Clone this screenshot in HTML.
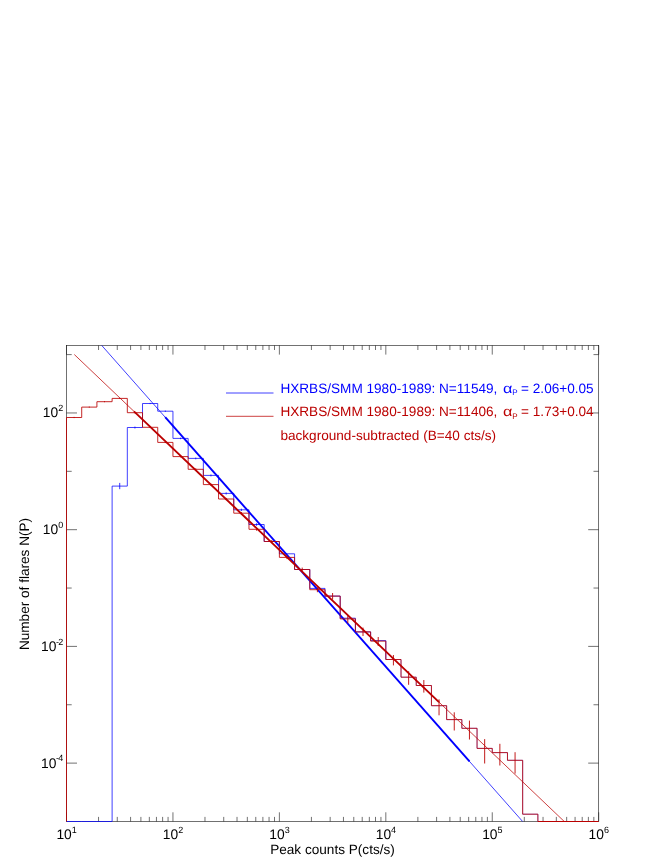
<!DOCTYPE html>
<html><head><meta charset="utf-8"><title>chart</title>
<style>html,body{margin:0;padding:0;background:#fff;}body{width:665px;height:865px;position:relative;overflow:hidden;font-family:"Liberation Sans",sans-serif;}</style>
</head><body>
<svg width="665" height="865" viewBox="0 0 665 865" style="position:absolute;left:0;top:0;will-change:transform">
<rect x="0" y="0" width="665" height="865" fill="#ffffff"/>
<g stroke="#1a1a1a" stroke-width="0.62" fill="none">
<rect x="66.5" y="345.4" width="532.2" height="476.1"/>
<path d="M66.50 821.5 v-9.2 M66.50 345.4 v9.2"/>
<path d="M98.54 821.5 v-4.6 M98.54 345.4 v4.6"/>
<path d="M117.28 821.5 v-4.6 M117.28 345.4 v4.6"/>
<path d="M130.58 821.5 v-4.6 M130.58 345.4 v4.6"/>
<path d="M140.90 821.5 v-4.6 M140.90 345.4 v4.6"/>
<path d="M149.33 821.5 v-4.6 M149.33 345.4 v4.6"/>
<path d="M156.45 821.5 v-4.6 M156.45 345.4 v4.6"/>
<path d="M162.62 821.5 v-4.6 M162.62 345.4 v4.6"/>
<path d="M168.07 821.5 v-4.6 M168.07 345.4 v4.6"/>
<path d="M172.94 821.5 v-9.2 M172.94 345.4 v9.2"/>
<path d="M204.98 821.5 v-4.6 M204.98 345.4 v4.6"/>
<path d="M223.72 821.5 v-4.6 M223.72 345.4 v4.6"/>
<path d="M237.02 821.5 v-4.6 M237.02 345.4 v4.6"/>
<path d="M247.34 821.5 v-4.6 M247.34 345.4 v4.6"/>
<path d="M255.77 821.5 v-4.6 M255.77 345.4 v4.6"/>
<path d="M262.89 821.5 v-4.6 M262.89 345.4 v4.6"/>
<path d="M269.06 821.5 v-4.6 M269.06 345.4 v4.6"/>
<path d="M274.51 821.5 v-4.6 M274.51 345.4 v4.6"/>
<path d="M279.38 821.5 v-9.2 M279.38 345.4 v9.2"/>
<path d="M311.42 821.5 v-4.6 M311.42 345.4 v4.6"/>
<path d="M330.16 821.5 v-4.6 M330.16 345.4 v4.6"/>
<path d="M343.46 821.5 v-4.6 M343.46 345.4 v4.6"/>
<path d="M353.78 821.5 v-4.6 M353.78 345.4 v4.6"/>
<path d="M362.21 821.5 v-4.6 M362.21 345.4 v4.6"/>
<path d="M369.33 821.5 v-4.6 M369.33 345.4 v4.6"/>
<path d="M375.50 821.5 v-4.6 M375.50 345.4 v4.6"/>
<path d="M380.95 821.5 v-4.6 M380.95 345.4 v4.6"/>
<path d="M385.82 821.5 v-9.2 M385.82 345.4 v9.2"/>
<path d="M417.86 821.5 v-4.6 M417.86 345.4 v4.6"/>
<path d="M436.60 821.5 v-4.6 M436.60 345.4 v4.6"/>
<path d="M449.90 821.5 v-4.6 M449.90 345.4 v4.6"/>
<path d="M460.22 821.5 v-4.6 M460.22 345.4 v4.6"/>
<path d="M468.65 821.5 v-4.6 M468.65 345.4 v4.6"/>
<path d="M475.77 821.5 v-4.6 M475.77 345.4 v4.6"/>
<path d="M481.94 821.5 v-4.6 M481.94 345.4 v4.6"/>
<path d="M487.39 821.5 v-4.6 M487.39 345.4 v4.6"/>
<path d="M492.26 821.5 v-9.2 M492.26 345.4 v9.2"/>
<path d="M524.30 821.5 v-4.6 M524.30 345.4 v4.6"/>
<path d="M543.04 821.5 v-4.6 M543.04 345.4 v4.6"/>
<path d="M556.34 821.5 v-4.6 M556.34 345.4 v4.6"/>
<path d="M566.66 821.5 v-4.6 M566.66 345.4 v4.6"/>
<path d="M575.09 821.5 v-4.6 M575.09 345.4 v4.6"/>
<path d="M582.21 821.5 v-4.6 M582.21 345.4 v4.6"/>
<path d="M588.38 821.5 v-4.6 M588.38 345.4 v4.6"/>
<path d="M593.83 821.5 v-4.6 M593.83 345.4 v4.6"/>
<path d="M598.70 821.5 v-9.2 M598.70 345.4 v9.2"/>
<path d="M66.5 763.12 h10.5 M598.7 763.12 h-10.5"/>
<path d="M66.5 704.76 h5.2 M598.7 704.76 h-5.2"/>
<path d="M66.5 646.40 h10.5 M598.7 646.40 h-10.5"/>
<path d="M66.5 588.04 h5.2 M598.7 588.04 h-5.2"/>
<path d="M66.5 529.68 h10.5 M598.7 529.68 h-10.5"/>
<path d="M66.5 471.32 h5.2 M598.7 471.32 h-5.2"/>
<path d="M66.5 412.96 h10.5 M598.7 412.96 h-10.5"/>
<path d="M66.5 354.60 h5.2 M598.7 354.60 h-5.2"/>
</g>
<clipPath id="c"><rect x="65.9" y="345.4" width="533.2" height="476.70000000000005"/></clipPath>
<g clip-path="url(#c)" fill="none" stroke-linejoin="miter">
<path stroke="#0000ff" stroke-width="0.75" d="M66.50 821.50 L66.50 821.50 L81.71 821.50 L81.71 821.50 L96.91 821.50 L96.91 821.50 L112.12 821.50 L112.12 486.10 L127.32 486.10 L127.32 427.50 L142.53 427.50 L142.53 403.50 L157.73 403.50 L157.73 411.20 L172.94 411.20 L172.94 438.40 L188.15 438.40 L188.15 458.40 L203.35 458.40 L203.35 475.40 L218.56 475.40 L218.56 493.40 L233.76 493.40 L233.76 509.80 L248.97 509.80 L248.97 524.50 L264.17 524.50 L264.17 541.50 L279.38 541.50 L279.38 553.80 L294.59 553.80 L294.59 569.50 L309.79 569.50 L309.79 588.40 L325.00 588.40 L325.00 596.10 L340.20 596.10 L340.20 618.20 L355.41 618.20 L355.41 631.90 L370.61 631.90 L370.61 640.60 L385.82 640.60 L385.82 659.50"/>
<path stroke="#0000ff" stroke-width="0.4" d="M385.82 659.50 L401.03 659.50 L401.03 677.20 L416.23 677.20 L416.23 685.50 L431.44 685.50 L431.44 705.70 L446.64 705.70 L446.64 719.60 L461.85 719.60 L461.85 728.30 L477.05 728.30 L477.05 748.40 L492.26 748.40 L492.26 752.60 L507.47 752.60 L507.47 760.30 L522.67 760.30 L522.67 814.20 L537.88 814.20 L537.88 821.50"/>
<path stroke="#0000ff" stroke-width="0.8" d="M119.72 482.9 V489.2"/>
<path stroke="#0000ff" stroke-width="0.8" d="M134.93 426.6 V428.5"/>
<path stroke="#0000ff" stroke-width="0.8" d="M150.13 402.9 V404.1"/>
<path stroke="#0000ff" stroke-width="0.8" d="M165.34 410.6 V411.9"/>
<path stroke="#0000ff" stroke-width="0.8" d="M180.54 437.7 V439.2"/>
<path stroke="#0000ff" stroke-width="0.8" d="M195.75 457.6 V459.3"/>
<path stroke="#0000ff" stroke-width="0.8" d="M210.95 474.5 V476.4"/>
<path stroke="#0000ff" stroke-width="0.8" d="M226.16 492.4 V494.5"/>
<path stroke="#0000ff" stroke-width="0.8" d="M241.37 508.7 V511.0"/>
<path stroke="#0000ff" stroke-width="0.8" d="M256.57 523.3 V525.8"/>
<path stroke="#0000ff" stroke-width="0.75" d="M91.7 334.09 L522.6 821.48"/>
<path stroke="#0000ff" stroke-width="1.9" d="M165.2 417.22 L469.5 761.42"/>
<path stroke="#bb0000" stroke-width="0.85" d="M66.50 821.50 L66.50 417.50 L81.71 417.50 L81.71 407.10 L96.91 407.10 L96.91 401.70 L112.12 401.70 L112.12 398.40 L127.32 398.40 L127.32 412.70 L142.53 412.70 L142.53 427.30 L157.73 427.30 L157.73 442.40 L172.94 442.40 L172.94 456.60 L188.15 456.60 L188.15 469.30 L203.35 469.30 L203.35 484.60 L218.56 484.60 L218.56 499.00 L233.76 499.00 L233.76 513.20 L248.97 513.20 L248.97 529.30 L264.17 529.30 L264.17 541.50 L279.38 541.50 L279.38 557.40 L294.59 557.40 L294.59 569.50 L309.79 569.50 L309.79 589.70 L325.00 589.70 L325.00 596.10 L340.20 596.10 L340.20 618.90 L355.41 618.90 L355.41 631.90 L370.61 631.90 L370.61 641.10 L385.82 641.10 L385.82 659.50 L401.03 659.50 L401.03 677.20 L416.23 677.20 L416.23 685.50 L431.44 685.50 L431.44 705.70 L446.64 705.70 L446.64 719.60 L461.85 719.60 L461.85 728.30 L477.05 728.30 L477.05 748.40 L492.26 748.40 L492.26 752.60 L507.47 752.60 L507.47 760.30 L522.67 760.30 L522.67 814.20 L537.88 814.20 L537.88 821.50"/>
<path stroke="#bb0000" stroke-width="1.05" d="M537.88 821.5 H598.7"/>
<path stroke="#bb0000" stroke-width="0.9" d="M74.10 416.9 V418.1"/>
<path stroke="#bb0000" stroke-width="0.9" d="M89.31 406.6 V407.6"/>
<path stroke="#bb0000" stroke-width="0.9" d="M104.51 401.2 V402.2"/>
<path stroke="#bb0000" stroke-width="0.9" d="M119.72 397.9 V398.9"/>
<path stroke="#bb0000" stroke-width="0.9" d="M134.93 412.1 V413.3"/>
<path stroke="#bb0000" stroke-width="0.9" d="M150.13 426.7 V427.9"/>
<path stroke="#bb0000" stroke-width="0.9" d="M165.34 441.7 V443.1"/>
<path stroke="#bb0000" stroke-width="0.9" d="M180.54 455.8 V457.4"/>
<path stroke="#bb0000" stroke-width="0.9" d="M195.75 468.4 V470.2"/>
<path stroke="#bb0000" stroke-width="0.9" d="M210.95 483.6 V485.6"/>
<path stroke="#bb0000" stroke-width="0.9" d="M226.16 497.9 V500.1"/>
<path stroke="#bb0000" stroke-width="0.9" d="M241.37 512.0 V514.4"/>
<path stroke="#bb0000" stroke-width="0.9" d="M256.57 528.0 V530.7"/>
<path stroke="#bb0000" stroke-width="0.9" d="M271.78 540.0 V543.0"/>
<path stroke="#bb0000" stroke-width="0.9" d="M286.98 555.7 V559.1"/>
<path stroke="#bb0000" stroke-width="0.9" d="M302.19 567.6 V571.5"/>
<path stroke="#bb0000" stroke-width="0.9" d="M317.39 587.3 V592.2"/>
<path stroke="#bb0000" stroke-width="0.9" d="M332.60 593.0 V599.6"/>
<path stroke="#bb0000" stroke-width="0.9" d="M347.81 615.0 V623.3"/>
<path stroke="#bb0000" stroke-width="0.9" d="M363.01 627.6 V636.0"/>
<path stroke="#bb0000" stroke-width="0.9" d="M378.22 637.0 V646.0"/>
<path stroke="#bb0000" stroke-width="0.9" d="M393.42 655.0 V665.4"/>
<path stroke="#bb0000" stroke-width="0.9" d="M408.63 671.2 V684.8"/>
<path stroke="#bb0000" stroke-width="0.9" d="M423.83 680.0 V692.6"/>
<path stroke="#bb0000" stroke-width="0.9" d="M439.04 699.3 V715.3"/>
<path stroke="#bb0000" stroke-width="0.9" d="M454.25 712.3 V730.5"/>
<path stroke="#bb0000" stroke-width="0.9" d="M469.45 720.6 V739.5"/>
<path stroke="#bb0000" stroke-width="0.9" d="M484.66 739.1 V763.5"/>
<path stroke="#bb0000" stroke-width="0.9" d="M499.86 743.8 V765.5"/>
<path stroke="#bb0000" stroke-width="0.9" d="M515.07 752.2 V773.6"/>
<path stroke="#bb0000" stroke-width="0.75" d="M74.3 354.50 L564.3 821.52"/>
<path stroke="#bb0000" stroke-width="1.9" d="M134 411.40 L439 702.10"/>
</g>
<path stroke="#0000ff" stroke-width="0.75" d="M226 393 H273.5"/>
<path stroke="#bb0000" stroke-width="0.75" d="M226 416.3 H273.5"/>
<g font-family="Liberation Sans, sans-serif" font-size="13.6px" style="text-rendering:geometricPrecision">
<text x="280.4" y="393" fill="#0000ff">HXRBS/SMM 1980-1989: N=11549,</text><text x="503.0" y="393" fill="#0000ff" textLength="9.4" lengthAdjust="spacingAndGlyphs">α</text><text x="512.3" y="395.3" fill="#0000ff" font-size="8px">P</text><text x="521.1" y="393" fill="#0000ff">= 2.06+0.05</text>
<text x="280.4" y="416.4" fill="#bb0000">HXRBS/SMM 1980-1989: N=11406,</text><text x="503.0" y="416.4" fill="#bb0000" textLength="9.4" lengthAdjust="spacingAndGlyphs">α</text><text x="512.3" y="418.7" fill="#bb0000" font-size="8px">P</text><text x="521.1" y="416.4" fill="#bb0000">= 1.73+0.04</text>
<text x="280.4" y="440.2" fill="#bb0000">background-subtracted (B=40 cts/s)</text>
<text x="332.5" y="853.5" fill="#000" text-anchor="middle">Peak counts P(cts/s)</text>
<text transform="translate(29.2 584) rotate(-90)" fill="#000" text-anchor="middle">Number of flares N(P)</text>
<text x="56.40" y="838.8" fill="#000" font-size="13.8px">10<tspan font-size="9px" dy="-6.1" dx="0">1</tspan></text>
<text x="162.84" y="838.8" fill="#000" font-size="13.8px">10<tspan font-size="9px" dy="-6.1" dx="0">2</tspan></text>
<text x="269.28" y="838.8" fill="#000" font-size="13.8px">10<tspan font-size="9px" dy="-6.1" dx="0">3</tspan></text>
<text x="375.72" y="838.8" fill="#000" font-size="13.8px">10<tspan font-size="9px" dy="-6.1" dx="0">4</tspan></text>
<text x="482.16" y="838.8" fill="#000" font-size="13.8px">10<tspan font-size="9px" dy="-6.1" dx="0">5</tspan></text>
<text x="588.60" y="838.8" fill="#000" font-size="13.8px">10<tspan font-size="9px" dy="-6.1" dx="0">6</tspan></text>
<text x="63.2" y="417.36" fill="#000" text-anchor="end" font-size="13.8px">10<tspan font-size="9px" dy="-6.1" dx="0">2</tspan></text>
<text x="63.2" y="534.08" fill="#000" text-anchor="end" font-size="13.8px">10<tspan font-size="9px" dy="-6.1" dx="0">0</tspan></text>
<text x="62.6" y="650.80" fill="#000" text-anchor="end" font-size="13.8px">10<tspan font-size="9px" dy="-6.1" dx="-0.4" letter-spacing="-0.7">-2</tspan></text>
<text x="62.6" y="767.52" fill="#000" text-anchor="end" font-size="13.8px">10<tspan font-size="9px" dy="-6.1" dx="-0.4" letter-spacing="-0.7">-4</tspan></text>
</g>
</svg>
</body></html>
